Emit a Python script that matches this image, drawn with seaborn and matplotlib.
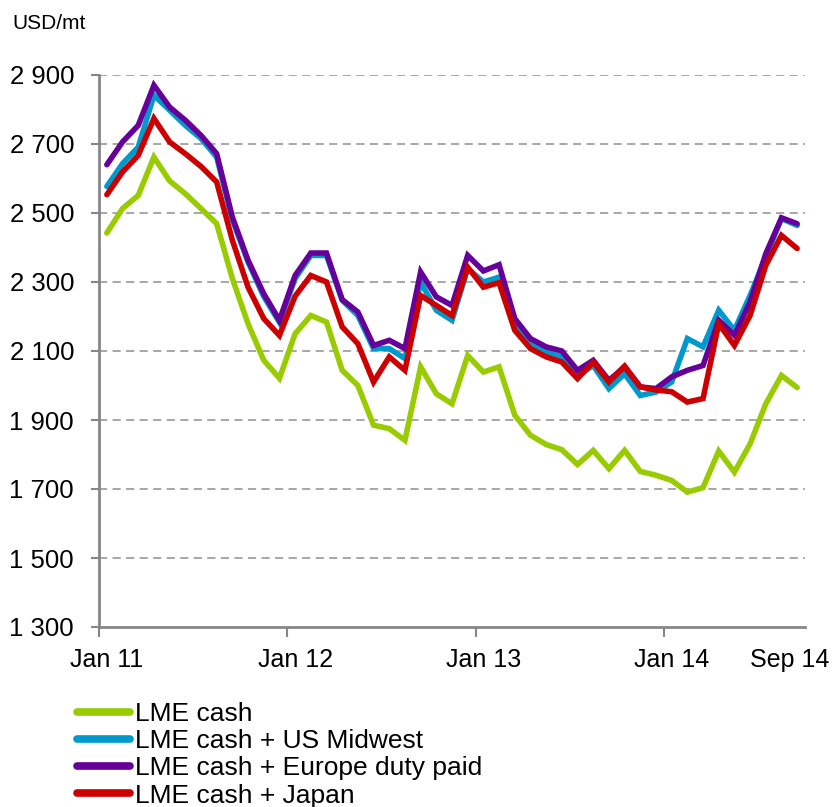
import numpy as np
import pandas as pd
import matplotlib
matplotlib.use("Agg")
import matplotlib.pyplot as plt
from matplotlib.ticker import FuncFormatter, FixedLocator
import seaborn as sns

# ---- data (monthly, Jan 2011 - Sep 2014) ----
months = pd.date_range("2011-01-01", periods=45, freq="MS").strftime("%b %y").tolist()

lme_cash = [2442, 2513, 2551, 2662, 2593, 2556, 2513, 2469, 2310, 2179, 2073, 2021,
            2150, 2203, 2184, 2044, 2000, 1885, 1875, 1841, 2054, 1976, 1947, 2087,
            2039, 2054, 1914, 1856, 1829, 1814, 1771, 1812, 1759, 1812, 1751, 1740,
            1725, 1691, 1704, 1810, 1749, 1831, 1947, 2029, 1994]
us_midwest = [2577, 2643, 2691, 2841, 2798, 2754, 2716, 2662, 2480, 2358, 2258, 2183,
              2310, 2377, 2377, 2247, 2203, 2107, 2107, 2078, 2300, 2218, 2189, 2339,
              2300, 2314, 2174, 2121, 2097, 2083, 2029, 2058, 1991, 2034, 1971, 1981,
              2010, 2136, 2112, 2218, 2160, 2261, 2372, 2484, 2464]
europe = [2640, 2706, 2754, 2870, 2807, 2769, 2725, 2672, 2488, 2363, 2266, 2189,
          2319, 2384, 2384, 2249, 2213, 2116, 2131, 2107, 2329, 2257, 2232, 2377,
          2332, 2350, 2194, 2136, 2112, 2100, 2044, 2073, 2015, 2054, 1996, 1991,
          2025, 2044, 2058, 2189, 2145, 2242, 2382, 2486, 2469]
japan = [2553, 2619, 2667, 2774, 2706, 2672, 2635, 2590, 2421, 2285, 2194, 2145,
         2259, 2319, 2300, 2170, 2121, 2010, 2083, 2044, 2261, 2232, 2203, 2343,
         2285, 2298, 2160, 2107, 2083, 2068, 2020, 2068, 2010, 2056, 1996, 1987,
         1982, 1952, 1962, 2179, 2116, 2203, 2348, 2435, 2397]

series_names = ["LME cash", "LME cash + US Midwest",
                "LME cash + Europe duty paid", "LME cash + Japan"]
colors = ["#99CC00", "#0099CC", "#660099", "#CC0000"]

tick_labels = ["Jan 11", "Jan 12", "Jan 13", "Jan 14", "Sep 14"]
tick_months = ["Jan 11", "Jan 12", "Jan 13", "Jan 14", "Sep 14"]

# ---- long-form table ----
frames = []
for name, vals in zip(series_names, [lme_cash, us_midwest, europe, japan]):
    frames.append(pd.DataFrame({"idx": np.arange(len(months)), "month": months,
                                "value": vals, "series": name}))
df = pd.concat(frames, ignore_index=True)

sns.set_theme(style="white")
plt.rcParams["font.family"] = ["Liberation Sans", "DejaVu Sans"]
plt.rcParams["text.color"] = "black"

fig = plt.figure(figsize=(8.32, 8.07), dpi=100)
ax = fig.add_axes([99 / 832, 1 - 627 / 807, (805 - 99) / 832, (627 - 75) / 807])

sns.lineplot(data=df, x="idx", y="value", hue="series", hue_order=series_names,
             palette=colors, linewidth=4.0, legend=False, ax=ax,
             solid_joinstyle="miter")

n = len(months)
ax.set_xlim(-0.5, n - 0.5)
ax.set_ylim(1300, 2900)
ax.set_xlabel("")
ax.set_ylabel("")

# y axis
ax.set_yticks(np.arange(1300, 2901, 200))
ax.yaxis.set_major_formatter(FuncFormatter(lambda v, p: f"{int(v):,}".replace(",", " ")))
ax.tick_params(axis="y", which="major", length=6, width=1.5, color="#868686",
               labelsize=18.5, pad=12, left=True, labelcolor="black")
for y in np.arange(1500, 2901, 200):
    ax.axhline(y, color="#A0A0A0", linewidth=1.3, linestyle=(0, (4.5, 3)), zorder=0)

# x axis: tick marks at year boundaries, labels at category centres
label_pos = [months.index(m) for m in tick_months]
label_pos[-1] = label_pos[-1] - 0.45
ax.xaxis.set_major_locator(FixedLocator(np.arange(-0.5, n, 12)))
ax.xaxis.set_minor_locator(FixedLocator(label_pos))
ax.set_xticklabels([], minor=False)
ax.set_xticklabels(tick_labels, minor=True)
ax.tick_params(axis="x", which="major", length=7, width=1.5, color="#868686",
               bottom=True, labelbottom=False)
ax.tick_params(axis="x", which="minor", length=0, labelsize=18, pad=15,
               labelcolor="black")

for s in ["top", "right"]:
    ax.spines[s].set_visible(False)
for s in ["left", "bottom"]:
    ax.spines[s].set_color("#868686")
    ax.spines[s].set_linewidth(2)
ax.grid(False)

fig.text(12 / 832, 1 - 29 / 807, "USD/mt", fontsize=15, va="baseline", ha="left",
         color="black")

handles = ax.get_lines()[:4]
leg = fig.legend(handles, series_names, loc="upper left",
                 bbox_to_anchor=(77 / 832, 1 - 702 / 807), frameon=False,
                 fontsize=19, handlelength=2.0, handletextpad=0.2,
                 labelspacing=0.12, borderpad=0, borderaxespad=0)
for t in leg.get_texts():
    t.set_color("black")
for h in leg.get_lines():
    h.set_linewidth(5.5)
    h.set_solid_capstyle("round")

fig.savefig("out.png", dpi=100)
